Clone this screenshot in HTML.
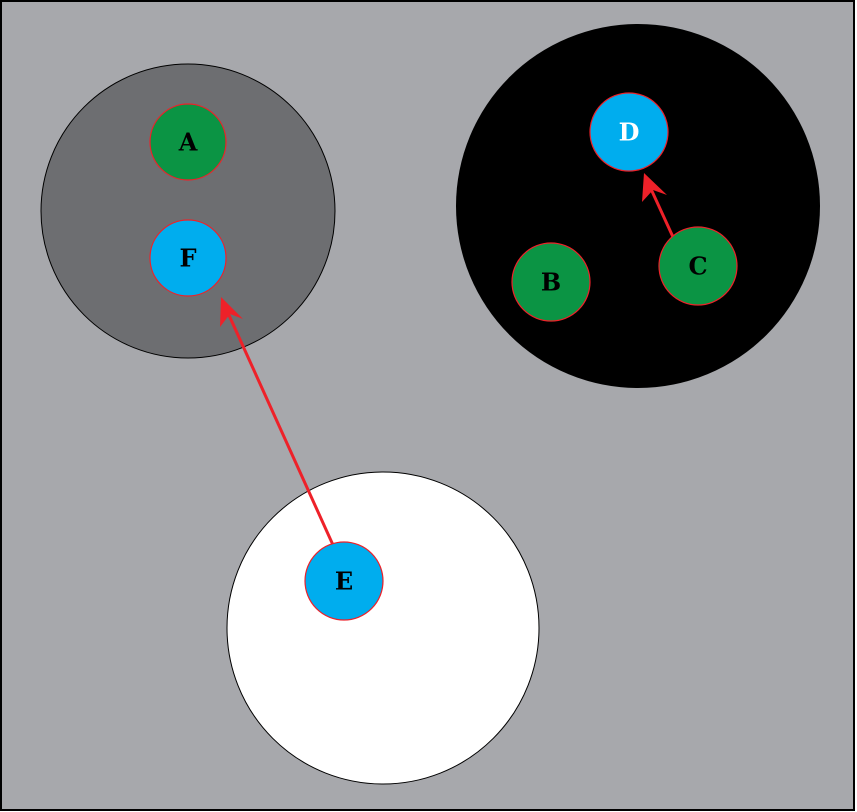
<!DOCTYPE html>
<html><head><meta charset="utf-8"><style>
html,body{margin:0;padding:0;background:#fff;}
svg{display:block;}
text{font-family:"DejaVu Serif","Liberation Serif",serif;font-weight:bold;font-size:24px;text-anchor:middle;dominant-baseline:central;}
</style></head><body>
<svg width="857" height="812" viewBox="0 0 857 812" xmlns="http://www.w3.org/2000/svg">
<rect x="1" y="1" width="853" height="809" fill="#a7a8ac" stroke="#000" stroke-width="2"/>
<circle cx="188" cy="211" r="147" fill="#6d6e71" stroke="#000" stroke-width="1"/>
<circle cx="638" cy="206" r="182" fill="#000"/>
<circle cx="383" cy="628" r="156" fill="#fff" stroke="#000" stroke-width="1"/>
<g stroke="#ee2129" stroke-width="3" fill="none">
<line x1="333" y1="545" x2="228" y2="313"/>
<line x1="673" y1="237" x2="651" y2="189"/>
</g>
<g fill="#ee2129">
<polygon points="221,297 243,319 230,314 220,327"/>
<polygon points="644,173 667,195 653,190 642,202"/>
</g>
<g stroke="#ee2129" stroke-width="1.2">
<circle cx="188" cy="142" r="38" fill="#0b9444"/>
<circle cx="188" cy="258" r="38" fill="#00adee"/>
<circle cx="629" cy="132" r="39" fill="#00adee"/>
<circle cx="551" cy="282" r="39" fill="#0b9444"/>
<circle cx="698" cy="266" r="39" fill="#0b9444"/>
<circle cx="344" cy="581" r="39" fill="#00adee"/>
</g>
<text x="188" y="142">A</text>
<text x="188" y="258">F</text>
<text x="629" y="132" fill="#fff">D</text>
<text x="551" y="282">B</text>
<text x="698" y="266">C</text>
<text x="344" y="581">E</text>
</svg>
</body></html>
